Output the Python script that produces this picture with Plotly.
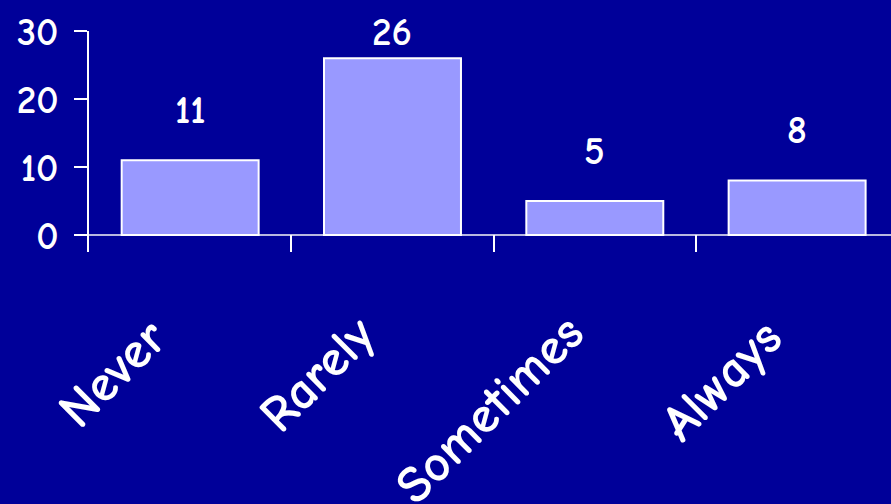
import plotly.graph_objects as go

categories = ["Never", "Rarely", "Sometimes", "Always"]
values = [11, 26, 5, 8]
label_shift = [50, 26, 50, 50]
y_ticks = [0, 10, 20, 30]

FONT = "Comic Sans MS, Comic Neue, Noto Sans, sans-serif"
BG = "#000099"

fig = go.Figure()
fig.add_trace(go.Bar(
    x=categories, y=values,
    width=0.677,
    marker=dict(color="#9999FF", line=dict(color="white", width=2)),
    hoverinfo="skip",
))

annotations = []
for c, v, s in zip(categories, values, label_shift):
    annotations.append(dict(x=c, y=v, xref="x", yref="y", text=str(v), showarrow=False,
                            yshift=s, font=dict(family=FONT, size=39, color="white", weight="bold"),
                            xanchor="center", yanchor="middle"))

# rotated category labels
label_center_y = [-0.55, -0.55, -0.71, -0.58]
label_xshift = [-78, -75, -105, -75]
for c, yy, xs in zip(categories, label_center_y, label_xshift):
    annotations.append(dict(x=c, y=yy, xref="x", yref="paper", text=c, showarrow=False,
                            textangle=-45, xshift=xs,
                            font=dict(family=FONT, size=52, color="white", weight="bold"),
                            xanchor="center", yanchor="middle"))

fig.update_layout(
    width=891, height=504,
    margin=dict(l=89, r=0, t=31, b=252),
    paper_bgcolor=BG, plot_bgcolor=BG,
    showlegend=False,
    annotations=annotations,
    xaxis=dict(range=[-0.5, 3.464], showgrid=False, showline=False, zeroline=False,
               ticks="inside", ticklen=17, tickwidth=1.5, tickcolor="white",
               tickson="boundaries", showticklabels=False),
    yaxis=dict(range=[-2.5, 30], tickvals=y_ticks, showgrid=False,
               showline=True, linecolor="white", linewidth=1.5,
               ticks="outside", ticklen=13, tickwidth=1.5, tickcolor="white",
               ticklabelstandoff=8,
               zeroline=True, zerolinecolor="#B8B8E0", zerolinewidth=2,
               tickfont=dict(family=FONT, size=39, color="white", weight="bold")),
)

fig.write_html("out.html")
